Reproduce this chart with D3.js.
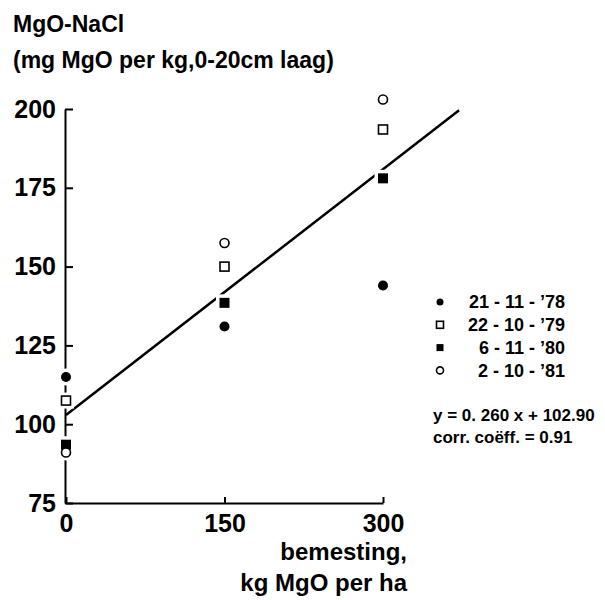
<!DOCTYPE html>
<html>
<head>
<meta charset="utf-8">
<script src="https://cdn.jsdelivr.net/npm/d3@7"></script>
<style>
  body { margin: 0; background: #fff; }
  svg { display: block; }
  text { font-family: "Liberation Sans", Arial, sans-serif; font-weight: bold; fill: #000; }
</style>
</head>
<body>
<svg id="chart"></svg>
<script>
// doses (kg MgO per ha)
const doses = [0, 150, 300]
const xTicks = [0, 150, 300]
const yTicks = [75, 100, 125, 150, 175, 200]

// MgO-NaCl per sampling date
const dates = ['21 - 11 - \u201978', '22 - 10 - \u201979', '6 - 11 - \u201980', '2 - 10 - \u201981']
const mg78 = [115, 131, 144]
const mg79 = [107.5, 150, 193.5]
const mg80 = [93.5, 138.5, 178]
const mg81 = [91, 157.5, 203]
const markers = ['dot', 'openSquare', 'square', 'openCircle']

// regression
const slope = 0.260
const intercept = 102.90
const fitRange = [0, 372]
const eqLines = ['y = 0. 260 x + 102.90', 'corr. co\u00ebff.  = 0.91']

const width = 605
const height = 600

const svg = d3.select('#chart')
  .attr('width', width)
  .attr('height', height)

const x = d3.scaleLinear().domain([0, 300]).range([66, 383])
const y = d3.scaleLinear().domain([75, 200]).range([503, 109])

const series = [mg78, mg79, mg80, mg81].map((vals, i) => ({
  name: dates[i],
  shape: markers[i],
  points: vals.map((v, j) => ({ dose: doses[j], value: v }))
}))

// assen
const yAxis = d3.axisLeft(y)
  .tickValues(yTicks)
  .tickSize(-8)
  .tickSizeOuter(0)
  .tickPadding(9)

const xAxis = d3.axisBottom(x)
  .tickValues(xTicks)
  .tickSize(-6)
  .tickSizeOuter(0)
  .tickPadding(11)

const gy = svg.append('g')
  .attr('transform', `translate(${x(0) - 1},0)`)
  .call(yAxis)
gy.selectAll('text').attr('font-size', 25)

const gx = svg.append('g')
  .attr('transform', `translate(0,${y(75)})`)
  .call(xAxis)
gx.selectAll('text').attr('font-size', 25)

svg.selectAll('.domain, .tick line')
  .attr('stroke', '#000')
  .attr('stroke-width', 2)

// regressielijn
const line = d3.line()
  .x(d => x(d))
  .y(d => y(slope * d + intercept))

svg.append('path')
  .attr('d', line(fitRange))
  .attr('fill', 'none')
  .attr('stroke', '#000')
  .attr('stroke-width', 2.5)

// symbolen (halo = witte rand die as/lijn onderbreekt)
function drawMarker(g, shape, cx, cy, s, halo) {
  const pad = halo ? 3.5 : 0
  if (shape === 'dot' || shape === 'openCircle') {
    g.append('circle')
      .attr('cx', cx).attr('cy', cy)
      .attr('r', s / 2 + pad)
      .attr('fill', halo ? '#fff' : (shape === 'dot' ? '#000' : '#fff'))
      .attr('stroke', halo || shape === 'dot' ? 'none' : '#000')
      .attr('stroke-width', 1.6)
  } else {
    g.append('rect')
      .attr('x', cx - s / 2 - pad).attr('y', cy - s / 2 - pad)
      .attr('width', s + 2 * pad).attr('height', s + 2 * pad)
      .attr('fill', halo ? '#fff' : (shape === 'square' ? '#000' : '#fff'))
      .attr('stroke', halo || shape === 'square' ? 'none' : '#000')
      .attr('stroke-width', 1.6)
  }
}

const sizes = { dot: 10, openSquare: 9, square: 10, openCircle: 9 }
const pts = svg.append('g')
series.forEach(s => {
  s.points.forEach(p => drawMarker(pts, s.shape, x(p.dose), y(p.value), sizes[s.shape], true))
})
series.forEach(s => {
  s.points.forEach(p => drawMarker(pts, s.shape, x(p.dose), y(p.value), sizes[s.shape], false))
})

// titels
svg.append('text').attr('x', 13).attr('y', 32).attr('font-size', 23).text('MgO-NaCl')
svg.append('text').attr('x', 13).attr('y', 68).attr('font-size', 23).text('(mg MgO per kg,0-20cm laag)')

svg.append('text').attr('x', 407).attr('y', 560).attr('font-size', 24)
  .attr('text-anchor', 'end').text('bemesting,')
svg.append('text').attr('x', 407).attr('y', 591).attr('font-size', 24)
  .attr('text-anchor', 'end').text('kg MgO per ha')

// legenda
const legend = svg.append('g')
series.forEach((s, i) => {
  const ly = 302 + i * 22.8
  drawMarker(legend, s.shape, 440, ly, 7, false)
  legend.append('text')
    .attr('x', 565).attr('y', ly)
    .attr('dy', '0.35em')
    .attr('font-size', 18)
    .attr('text-anchor', 'end')
    .text(s.name)
})

eqLines.forEach((t, i) => {
  svg.append('text')
    .attr('x', 433).attr('y', 421 + i * 22)
    .attr('font-size', 17)
    .text(t)
})
</script>
</body>
</html>
